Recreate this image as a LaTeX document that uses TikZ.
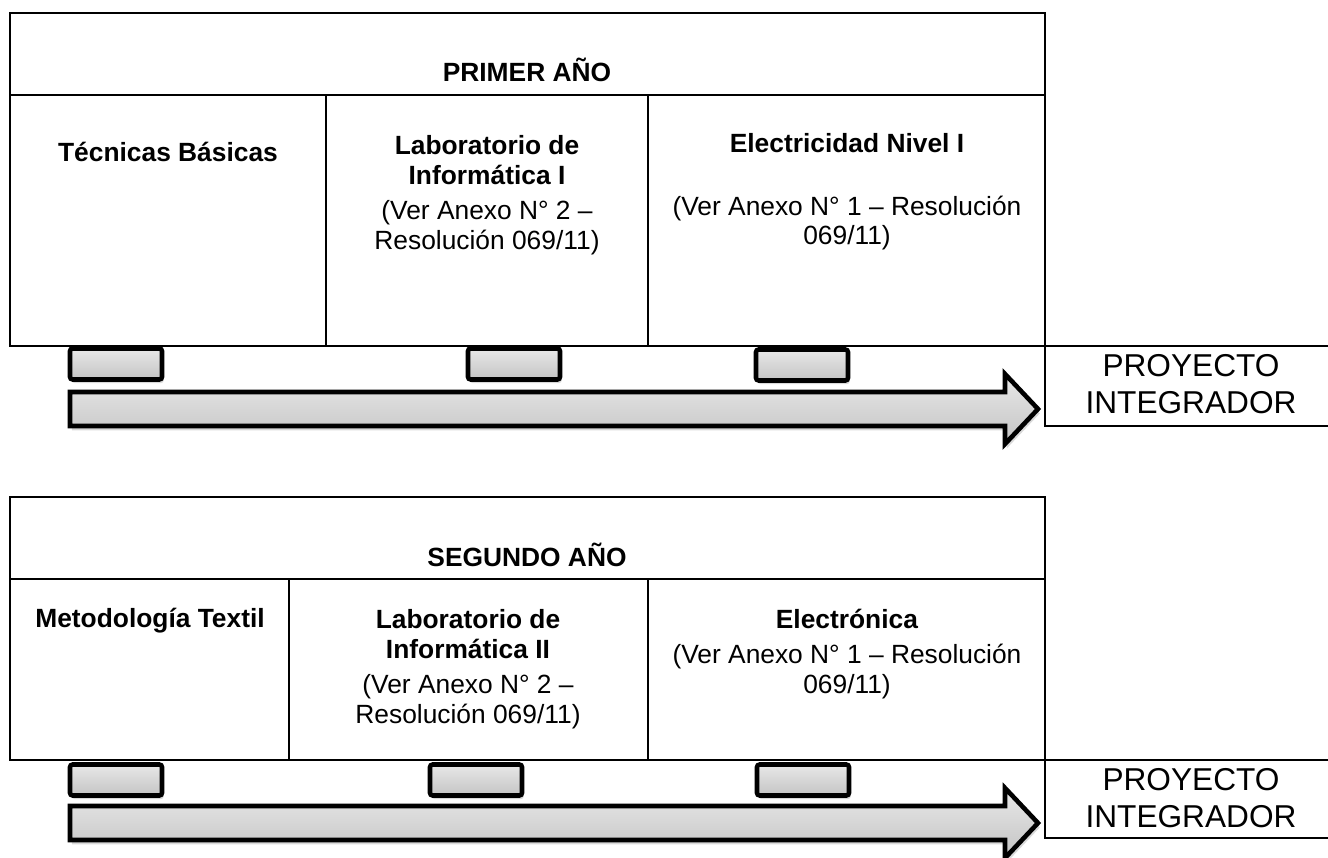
\documentclass[tikz,border=0pt]{standalone}
\usepackage{fontspec}
\setmainfont{Liberation Sans}
\usetikzlibrary{shadows}
\definecolor{knobtop}{HTML}{E8E8E8}
\definecolor{knobbot}{HTML}{C4C4C4}
\newcommand\cellfont[2]{\fontsize{#1}{#2}\selectfont\lineskiplimit=-8pt\relax}

\begin{document}
\begin{tikzpicture}[x=0.02cm,y=-0.02cm,
    rule/.style={line width=1.1pt},
    head/.style={font=\bfseries\cellfont{15}{17},align=center,inner sep=0pt},
    ref/.style={font=\cellfont{15}{17},align=center,inner sep=0pt},
    goal/.style={font=\cellfont{18}{21},align=center,inner sep=0pt},
    knob/.style={draw,line width=2.6pt,rounded corners=1.5pt,top color=knobtop,
      bottom color=knobbot,minimum width=1.84cm,minimum height=0.62cm,inner sep=0pt,
      drop shadow={shadow xshift=1pt,shadow yshift=-2pt,opacity=.3}},
    band/.style={draw,line width=2.6pt,line join=miter,top color=knobtop,bottom color=knobbot,
      drop shadow={shadow xshift=1pt,shadow yshift=-2.5pt,opacity=.3}}]
    \clip (0,0) rectangle (1328,858);
    \newcommand\knob[3]{
      \node[knob] at (#1,#2) (#3) {};
    }
    \newcommand\band[1]{
      \draw[band] (70,#1-17) -- (1005,#1-17) -- (1005,#1-35) -- (1038,#1)
      -- (1005,#1+35) -- (1005,#1+17) -- (70,#1+17) -- cycle;
    }
    % primer año
    \draw[rule] (10,13) rectangle (1045,346) (10,95) -- (1045,95)
    (326,95) -- (326,346) (648,95) -- (648,346)
    (1045,346) -- (1328,346) (1045,346) -- (1045,426) -- (1328,426);
    \node[head] at (527,70) (y1) {PRIMER AÑO};
    \node[head] at (168,152) (tb) {Técnicas Básicas};
    \node[ref] at (487,195) (li1) {\textbf{Laboratorio de}\\\textbf{Informática I}\\[3pt](Ver Anexo N° 2 –\\Resolución 069/11)};
    \node[head] at (847,143) (el1) {Electricidad Nivel I};
    \node[ref] at (847,223) (el1r) {(Ver Anexo N° 1 – Resolución\\069/11)};
    \node[goal] at (1191,384) (pi1) {PROYECTO\\INTEGRADOR};
    \knob{116}{364}{k11};
    \knob{514}{364}{k12};
    \knob{802}{365}{k13};
    \band{409}
    % segundo año
    \draw[rule] (10,497) rectangle (1045,760) (10,579) -- (1045,579)
    (289,579) -- (289,760) (648,579) -- (648,760)
    (1045,760) -- (1328,760) (1045,760) -- (1045,838) -- (1328,838);
    \node[head] at (527,555) (y2) {SEGUNDO AÑO};
    \node[head] at (150,621) (mt) {Metodología Textil};
    \node[ref] at (468,669) (li2) {\textbf{Laboratorio de}\\\textbf{Informática II}\\[3pt](Ver Anexo N° 2 –\\Resolución 069/11)};
    \node[ref] at (847,654) (el2) {\textbf{Electrónica}\\[3pt](Ver Anexo N° 1 – Resolución\\069/11)};
    \node[goal] at (1191,798) (pi2) {PROYECTO\\INTEGRADOR};
    \knob{116}{780}{k21};
    \knob{476}{780}{k22};
    \knob{803}{780}{k23};
    \band{823}
\end{tikzpicture}
\end{document}
